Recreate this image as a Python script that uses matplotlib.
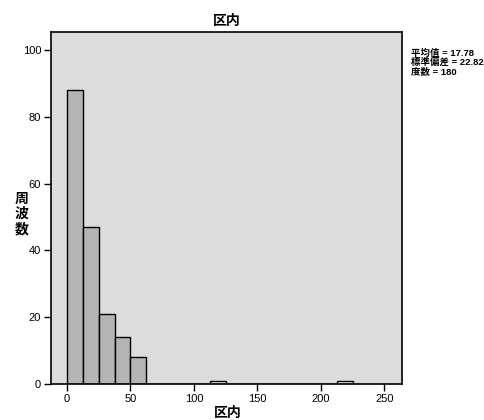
import matplotlib
matplotlib.use("Agg")
import matplotlib.pyplot as plt

plt.rcParams["font.family"] = ["Liberation Sans", "Noto Sans CJK JP", "DejaVu Sans"]

# histogram data (bin width 12.5)
bin_left = [0, 12.5, 25, 37.5, 50, 62.5, 75, 87.5, 100, 112.5, 125, 137.5, 150,
            162.5, 175, 187.5, 200, 212.5]
counts = [88, 47, 21, 14, 8, 0, 0, 0, 0, 1, 0, 0, 0, 0, 0, 0, 0, 1]
bin_width = 12.5
x_ticks = [0, 50, 100, 150, 200, 250]
y_ticks = [0, 20, 40, 60, 80, 100]
stats = ["平均值 = 17.78", "標準偏差 = 22.82", "度数 = 180"]

fig = plt.figure(figsize=(4.85, 4.2), dpi=100)
ax = fig.add_axes([0.105, 0.086, 0.724, 0.838])
ax.set_facecolor("#dcdcdc")

colors = ["#b4b4b4" if c > 1 else "#ececec" for c in counts]
ax.bar(bin_left, counts, width=bin_width, align="edge", color=colors,
       edgecolor="black", linewidth=1.0)

ax.set_xlim(-12.6, 264)
ax.set_ylim(0, 105.4)
ax.set_xticks(x_ticks)
ax.set_yticks(y_ticks)
ax.tick_params(direction="out", length=5, width=1, labelsize=8, pad=2)
for s in ax.spines.values():
    s.set_linewidth(1.2)

ax.set_title("区内", fontsize=10, fontweight="bold", pad=5)
fig.text(0.47, 0.017, "区内", fontsize=10, fontweight="bold",
         ha="center", va="center")
fig.text(0.045, 0.49, "周\n波\n数", fontsize=10, fontweight="bold",
         ha="center", va="center", linespacing=1.1)

fig.text(0.847, 0.885, "\n".join(stats), fontsize=6.8, fontweight="bold",
         ha="left", va="top", linespacing=1.0)

fig.savefig("out.png", dpi=100)
